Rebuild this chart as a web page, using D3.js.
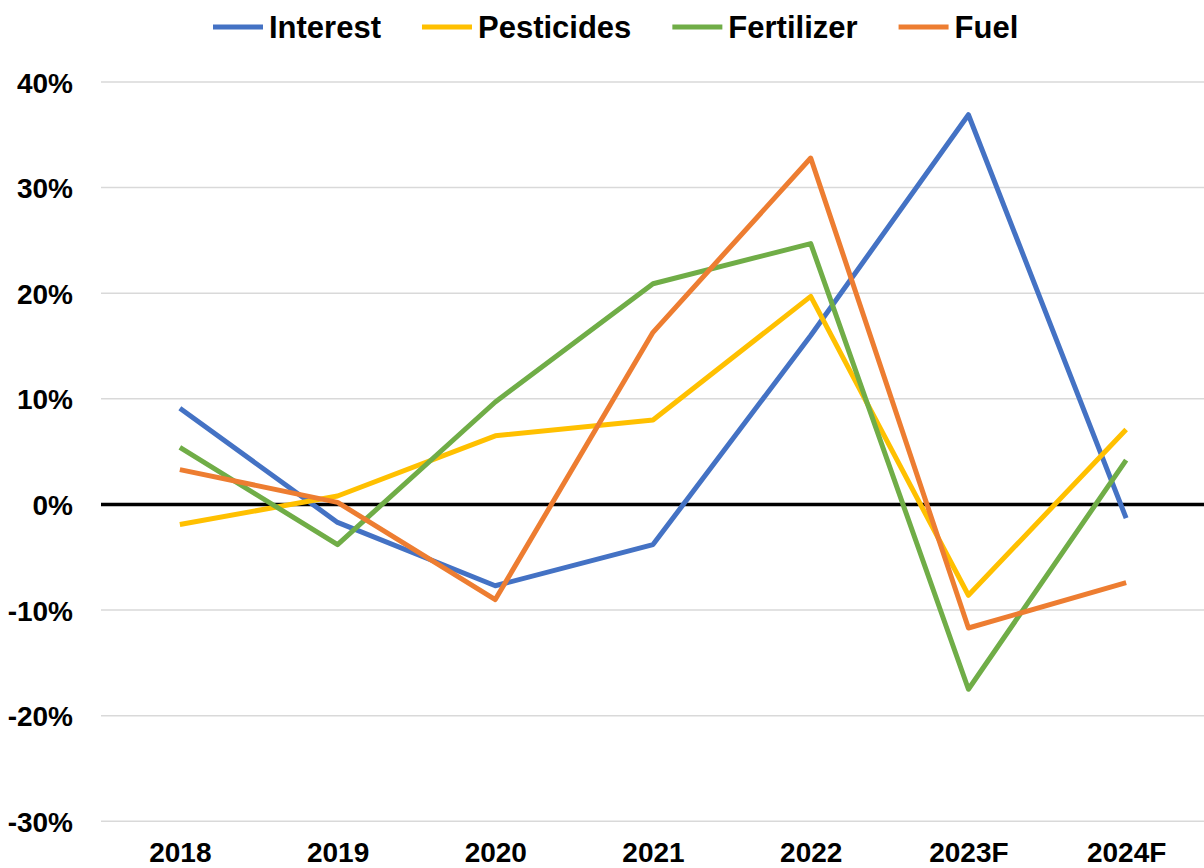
<!DOCTYPE html>
<html>
<head>
<meta charset="utf-8">
<script src="https://cdn.jsdelivr.net/npm/d3@7"></script>
<style>
  html, body { margin: 0; padding: 0; background: #fff; }
  svg { display: block; font-family: "Liberation Sans", Arial, sans-serif; font-weight: bold; }
</style>
</head>
<body>
<svg id="chart" width="1204" height="868"></svg>
<script>
const categories = ["2018", "2019", "2020", "2021", "2022", "2023F", "2024F"];
const seriesNames = ["Interest", "Pesticides", "Fertilizer", "Fuel"];
const seriesColors = ["#4472C4", "#FFC000", "#70AD47", "#ED7D31"];
const interest   = [0.091, -0.017, -0.077, -0.038, 0.160, 0.369, -0.013];
const pesticides = [-0.019, 0.008, 0.065, 0.080, 0.197, -0.086, 0.071];
const fertilizer = [0.054, -0.038, 0.097, 0.209, 0.247, -0.175, 0.042];
const fuel       = [0.033, 0.002, -0.090, 0.163, 0.328, -0.117, -0.074];
const yTicks = [-0.3, -0.2, -0.1, 0, 0.1, 0.2, 0.3, 0.4];

const seriesValues = [interest, pesticides, fertilizer, fuel];

const svg = d3.select("#chart");
const plotLeft = 101, plotRight = 1205, plotTop = 82, plotBottom = 821.3;

const x = d3.scalePoint().domain(categories).range([plotLeft, plotRight]).padding(0.5);
const y = d3.scaleLinear().domain([-0.3, 0.4]).range([plotBottom, plotTop]);

// gridlines
svg.append("g").selectAll("line").data(yTicks.filter(d => d !== 0)).join("line")
  .attr("x1", plotLeft).attr("x2", plotRight)
  .attr("y1", d => y(d)).attr("y2", d => y(d))
  .attr("stroke", "#d9d9d9").attr("stroke-width", 1.5);

// y axis labels (hyphen-minus like the reference)
const pct = d => Math.round(d * 100) + "%";
const yAxis = d3.axisLeft(y).tickValues(yTicks).tickFormat(pct).tickSize(0).tickPadding(0);
const yg = svg.append("g").attr("transform", `translate(73,0)`).call(yAxis);
yg.select(".domain").remove();
yg.selectAll("text").attr("font-size", 28).attr("font-weight", "bold")
  .attr("font-family", '"Liberation Sans", Arial, sans-serif').attr("fill", "#000")
  .attr("dy", "0.36em").attr("x", 0);

// x axis labels
const xAxis = d3.axisBottom(x).tickSize(0).tickPadding(0);
const xg = svg.append("g").attr("transform", `translate(0,862)`).call(xAxis);
xg.select(".domain").remove();
xg.selectAll("text").attr("font-size", 28).attr("font-weight", "bold")
  .attr("font-family", '"Liberation Sans", Arial, sans-serif').attr("fill", "#000")
  .attr("dy", 0).attr("y", 0);

// zero line
svg.append("line").attr("x1", plotLeft).attr("x2", plotRight)
  .attr("y1", y(0)).attr("y2", y(0)).attr("stroke", "#000").attr("stroke-width", 3.5);

// series lines
const line = d3.line().x((d, i) => x(categories[i])).y(d => y(d));
svg.append("g").selectAll("path").data(seriesValues).join("path")
  .attr("d", d => line(d))
  .attr("fill", "none")
  .attr("stroke", (d, i) => seriesColors[i])
  .attr("stroke-width", 5)
  .attr("stroke-linejoin", "round")
  .attr("stroke-linecap", "butt");

// legend
const legend = svg.append("g");
let lx = 213;
seriesNames.forEach((name, i) => {
  legend.append("line").attr("x1", lx).attr("x2", lx + 50).attr("y1", 27).attr("y2", 27)
    .attr("stroke", seriesColors[i]).attr("stroke-width", 5);
  const t = legend.append("text").attr("x", lx + 56).attr("y", 37.5)
    .attr("font-size", 31).attr("font-weight", "bold").attr("fill", "#000").text(name);
  const w = t.node().getComputedTextLength();
  lx = lx + 56 + w + 41;
});
</script>
</body>
</html>
